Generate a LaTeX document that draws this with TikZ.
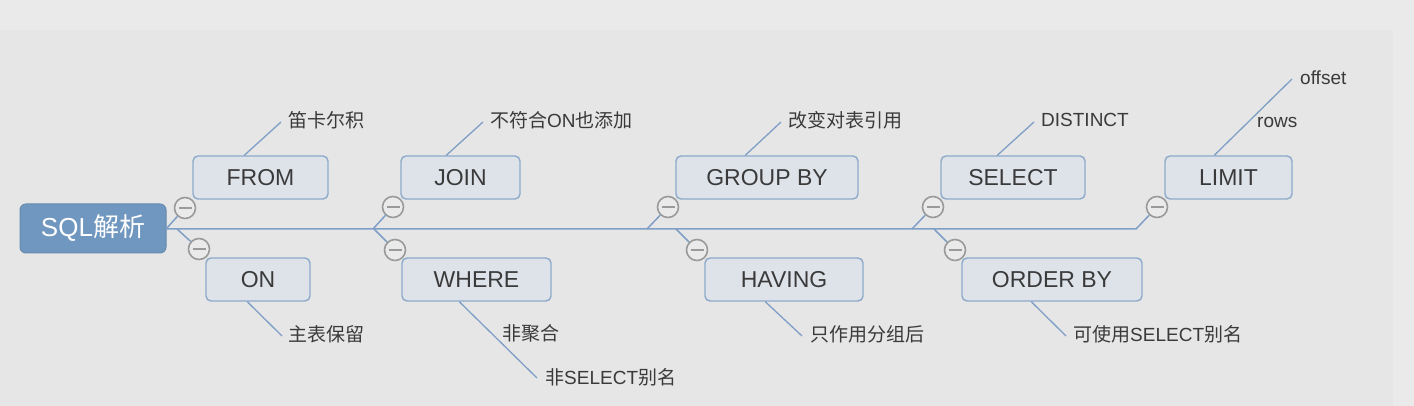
\documentclass[tikz,border=0pt]{standalone}
\usepackage{fontspec}
\setmainfont{Liberation Sans}
\newfontfamily\cjk{Noto Sans CJK SC}
\usetikzlibrary{positioning}

\definecolor{bgcol}{HTML}{EAEAEA}
\definecolor{panelcol}{HTML}{E6E6E6}
\definecolor{rootcol}{HTML}{7097BF}
\definecolor{boxfill}{HTML}{DEE3EA}
\definecolor{boxline}{HTML}{8EAACB}
\definecolor{linecol}{HTML}{7F9FC6}
\definecolor{textcol}{HTML}{3A3A3A}
\definecolor{knobcol}{HTML}{9A9A9A}

\tikzset{
	rootbox/.style={rectangle, rounded corners=6pt, draw=rootcol!92!black, fill=rootcol, line width=1pt, minimum height=49pt, inner sep=0pt, text=white, font=\fontsize{26}{30}\selectfont},
	topic/.style={rectangle, rounded corners=5pt, draw=boxline, fill=boxfill, line width=1.4pt, minimum height=43pt, inner sep=0pt, text=textcol, font=\fontsize{23}{27}\selectfont},
	leaf/.style={anchor=west, inner sep=0pt, text=textcol, font=\fontsize{19}{23}\selectfont},
	knob/.style={circle, draw=knobcol, fill=bgcol, line width=1.6pt, minimum size=21pt, inner sep=0pt},
	branch/.style={draw=linecol, line width=1.5pt},
	twig/.style={draw=linecol, line width=1.3pt},
}

\begin{document}
\begin{tikzpicture}[x=1pt,y=-1pt]
		\useasboundingbox (0,0) rectangle (1414,406);
		\fill[bgcol] (0,0) rectangle (1414,406);
		\fill[panelcol] (0,30) rectangle (1393,406);

		\node[rootbox, minimum width=146pt] (sql) at (93,228.5) {SQL{\cjk 解析}};

		\node[topic, minimum width=135pt] (from) at (260.5,177.5) {FROM};
		\node[topic, minimum width=104pt] (on) at (258,279.5) {ON};
		\node[topic, minimum width=119pt] (join) at (460.5,177.5) {JOIN};
		\node[topic, minimum width=149pt] (where) at (476.5,279.5) {WHERE};
		\node[topic, minimum width=182pt] (group) at (767,177.5) {GROUP BY};
		\node[topic, minimum width=158pt] (having) at (784,279.5) {HAVING};
		\node[topic, minimum width=144pt] (select) at (1013,177.5) {SELECT};
		\node[topic, minimum width=180pt] (order) at (1052,279.5) {ORDER BY};
		\node[topic, minimum width=127pt] (limit) at (1228.5,177.5) {LIMIT};

		\coordinate (b0) at (166,229);
		\coordinate (b1) at (373,229);
		\coordinate (b2) at (647,229);
		\coordinate (b3) at (912,229);
		\coordinate (b4) at (1136,229);
		\coordinate (d0) at (177,229);
		\coordinate (d1) at (374,229);
		\coordinate (d2) at (676,229);
		\coordinate (d3) at (934,229);

		\node[knob] (k1) at (185,208) {};
		\node[knob] (k2) at (199,249) {};
		\node[knob] (k3) at (393,207) {};
		\node[knob] (k4) at (395,250) {};
		\node[knob] (k5) at (668,207) {};
		\node[knob] (k6) at (697,250) {};
		\node[knob] (k7) at (933,207) {};
		\node[knob] (k8) at (955,250) {};
		\node[knob] (k9) at (1157,207) {};
		\foreach \k in {k1,k2,k3,k4,k5,k6,k7,k8,k9} {
			\draw[knobcol, line width=1.8pt] ([xshift=-6.5]\k.center) -- ([xshift=6.5]\k.center);
		}

		\draw[branch] (b0) -- (b1) -- (b2) -- (b3) -- (b4) -- (k9);
		\draw[branch] (b0) -- (k1);
		\draw[branch] (d0) -- (k2);
		\draw[branch] (b1) -- (k3);
		\draw[branch] (d1) -- (k4);
		\draw[branch] (b2) -- (k5);
		\draw[branch] (d2) -- (k6);
		\draw[branch] (b3) -- (k7);
		\draw[branch] (d3) -- (k8);

		\node[leaf] (l1) at (288,120) {\cjk 笛卡尔积};
		\node[leaf] (l2) at (288,334) {\cjk 主表保留};
		\node[leaf] (l3) at (490,120) {{\cjk 不符合}ON{\cjk 也添加}};
		\node[leaf] (l4) at (502,333) {\cjk 非聚合};
		\node[leaf] (l5) at (545,377) {{\cjk 非}SELECT{\cjk 别名}};
		\node[leaf] (l6) at (788,120) {\cjk 改变对表引用};
		\node[leaf] (l7) at (810,334) {\cjk 只作用分组后};
		\node[leaf] (l8) at (1041,120) {DISTINCT};
		\node[leaf] (l9) at (1073,334) {{\cjk 可使用}SELECT{\cjk 别名}};
		\node[leaf] (l10) at (1257,122) {rows};
		\node[leaf] (l11) at (1300,78) {offset};

		\draw[twig] ([xshift=52]from.north west) -- ([shift={(-7,2)}]l1.west);
		\draw[twig] ([xshift=42]on.south west) -- ([shift={(-6,2)}]l2.west);
		\draw[twig] ([xshift=46]join.north west) -- ([shift={(-7,2)}]l3.west);
		\draw[twig] ([xshift=58]where.south west) -- ([shift={(-8,1)}]l5.west);
		\draw[twig] ([xshift=70]group.north west) -- ([shift={(-7,2)}]l6.west);
		\draw[twig] ([xshift=61]having.south west) -- ([shift={(-8,2)}]l7.west);
		\draw[twig] ([xshift=57]select.north west) -- ([shift={(-7,2)}]l8.west);
		\draw[twig] ([xshift=70]order.south west) -- ([shift={(-7,2)}]l9.west);
		\draw[twig] ([xshift=50]limit.north west) -- ([shift={(-8,1)}]l11.west);
	\end{tikzpicture}
\end{document}
